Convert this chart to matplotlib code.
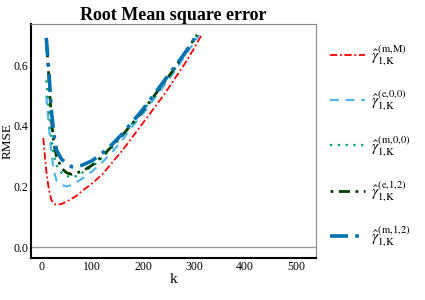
import numpy as np
import matplotlib
matplotlib.use('Agg')
import matplotlib.pyplot as plt

plt.rcParams['font.family'] = ['Liberation Serif', 'DejaVu Serif']
plt.rcParams['mathtext.fontset'] = 'stix'

# data
k = [10, 15, 20, 25, 30, 40, 50, 60, 70, 80, 100, 120, 140, 160, 180, 200, 220, 240, 260, 280, 300]
k_red = [4] + k + [315]

rmse_mM = [0.36, 0.25, 0.19, 0.155, 0.142, 0.14, 0.142, 0.15, 0.16, 0.17, 0.185, 0.21, 0.24, 0.28,
           0.32, 0.365, 0.41, 0.455, 0.50, 0.55, 0.60, 0.655, 0.70]
rmse_e00 = [0.50, 0.40, 0.31, 0.25, 0.22, 0.205, 0.20, 0.205, 0.215, 0.225, 0.25, 0.28, 0.315,
            0.355, 0.40, 0.44, 0.485, 0.53, 0.575, 0.625, 0.675]
rmse_m00 = [0.55, 0.45, 0.36, 0.30, 0.27, 0.245, 0.235, 0.23, 0.235, 0.245, 0.265, 0.295, 0.33,
            0.37, 0.41, 0.45, 0.495, 0.54, 0.585, 0.635, 0.685]
rmse_e12 = [0.69, 0.56, 0.42, 0.34, 0.30, 0.26, 0.245, 0.24, 0.245, 0.25, 0.27, 0.30, 0.335,
            0.37, 0.41, 0.45, 0.495, 0.54, 0.585, 0.635, 0.685]
rmse_m12 = [0.69, 0.58, 0.45, 0.37, 0.32, 0.29, 0.275, 0.265, 0.265, 0.27, 0.285, 0.31, 0.34,
            0.375, 0.415, 0.455, 0.50, 0.545, 0.59, 0.635, 0.685]

# last points of the other curves
k_end = {'e00': 310, 'm00': 306, 'e12': 306, 'm12': 305}

labels = [r'$\hat{\gamma}^{\mathrm{(m{,}M)}}_{\mathrm{1{,}K}}$',
          r'$\hat{\gamma}^{\mathrm{(e{,}0{,}0)}}_{\mathrm{1{,}K}}$',
          r'$\hat{\gamma}^{\mathrm{(m{,}0{,}0)}}_{\mathrm{1{,}K}}$',
          r'$\hat{\gamma}^{\mathrm{(e{,}1{,}2)}}_{\mathrm{1{,}K}}$',
          r'$\hat{\gamma}^{\mathrm{(m{,}1{,}2)}}_{\mathrm{1{,}K}}$']

fig = plt.figure(figsize=(4.25, 3.0), dpi=100)
ax = fig.add_axes([0.073, 0.14, 0.671, 0.78])

ax.axhline(0, color='#999999', lw=1)

ax.plot(k_red, rmse_mM, color='#FF0000', lw=1.3, ls=(0, (4, 1.5, 1, 1.5)), label=labels[0])
ax.plot(k + [k_end['e00']], rmse_e00 + [0.70], color='#56B4E9', lw=1.6, ls=(0, (4, 3)),
        label=labels[1])
ax.plot(k + [k_end['m00']], rmse_m00 + [0.70], color='#009E73', lw=1.6, ls=(0, (1, 2.5)),
        label=labels[2])
ax.plot(k + [k_end['e12']], rmse_e12 + [0.70], color='#003D00', lw=2.0, ls=(0, (1, 2, 4, 2)),
        label=labels[3])
ax.plot(k + [k_end['m12']], rmse_m12 + [0.70], color='#0072B2', lw=2.6, ls=(0, (5, 2, 1, 2)),
        label=labels[4])

ax.set_xlim(-20, 540)
ax.set_ylim(-0.036, 0.736)
ax.set_xticks([0, 100, 200, 300, 400, 500])
ax.set_yticks([0.0, 0.2, 0.4, 0.6])
ax.tick_params(length=0, labelsize=8.5, pad=2)

for s in ['top', 'right']:
    ax.spines[s].set_color('#888888')
    ax.spines[s].set_linewidth(0.8)
for s in ['left', 'bottom']:
    ax.spines[s].set_color('black')
    ax.spines[s].set_linewidth(1.5)

ax.set_title('Root Mean square error', fontsize=13, fontweight='bold', pad=3)
ax.set_xlabel('k', fontsize=11, labelpad=0)
ax.set_ylabel('RMSE', fontsize=9.5, labelpad=0)

ax.legend(loc='upper left', bbox_to_anchor=(1.0, 0.975), frameon=False, fontsize=11,
          handlelength=2.3, labelspacing=1.38, handletextpad=0.4)

fig.savefig('out.png', dpi=100)
